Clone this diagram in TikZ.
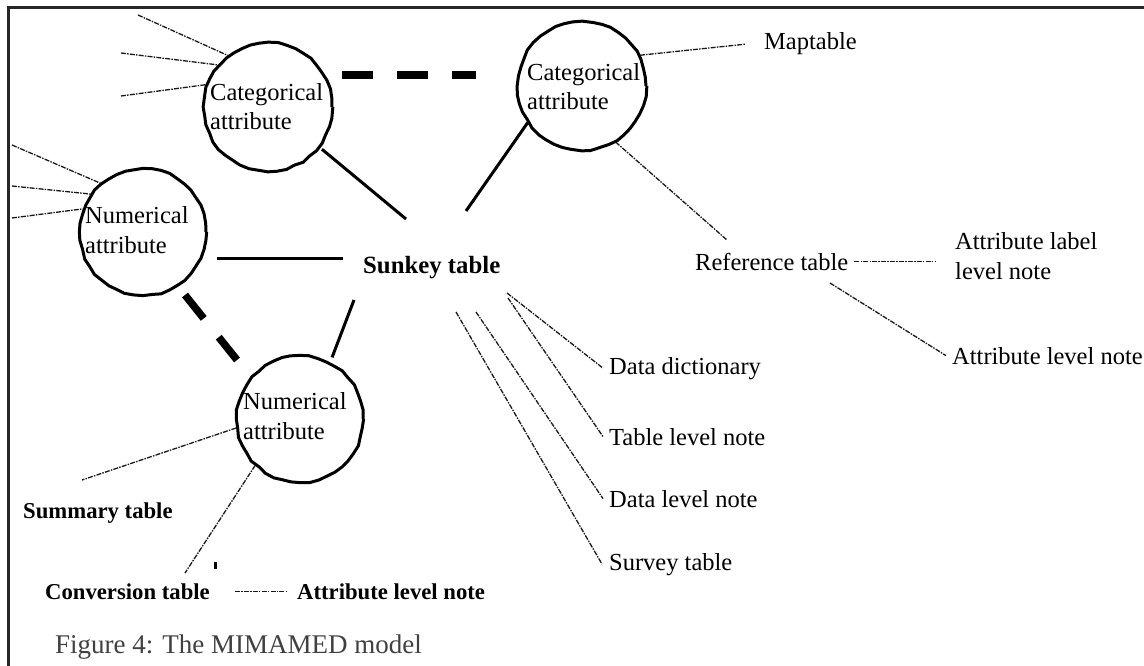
\documentclass[tikz,border=0pt]{standalone}
\usepackage{fontspec}
\setmainfont{Liberation Serif}
\usetikzlibrary{decorations.pathmorphing}
\definecolor{capgray}{HTML}{404040}
\begin{document}
\begin{tikzpicture}[x=1pt,y=-1pt,
  blob/.style={circle, draw, line width=3pt, inner sep=0pt, minimum size=#1,
    decorate, decoration={random steps, segment length=9pt, amplitude=0.8pt}},
  lbl/.style={inner sep=0pt, anchor=base west, font=\fontsize{24.5}{29.5}\selectfont},
  blbl/.style={inner sep=0pt, anchor=base west, font=\fontsize{22.7}{27}\selectfont\bfseries},
  ctext/.style={inner sep=0pt, anchor=west, align=left, font=\fontsize{24.5}{29.5}\selectfont},
  solidlink/.style={line width=3pt},
  heavydash/.style={line width=7.5pt, dash pattern=on 31pt off 24pt},
  faint/.style={line width=1.3pt, black!90, dash pattern=on 5pt off 1.2pt on 1.5pt off 1.2pt},
]
\pgfmathsetseed{7}
\useasboundingbox (0,0) rectangle (1144,666);
% frame
\draw[line width=3pt, black!85] (8,666) -- (8,8) -- (1144,8);

% circles
\node[blob=128pt] (c1) at (268,107) {};
\node[blob=128pt] (c2) at (582,86) {};
\node[blob=126pt] (c3) at (143,232) {};
\node[blob=126pt] (c4) at (300,419) {};
\node[ctext] (t1) at (210,106.5) {Categorical\\attribute};
\node[ctext] (t2) at (527,86.5) {Categorical\\attribute};
\node[ctext] (t3) at (85,230) {Numerical\\attribute};
\node[ctext] (t4) at (243,416) {Numerical\\attribute};

% labels
\node[inner sep=0pt, anchor=base west, font=\fontsize{24.8}{28}\selectfont\bfseries] (sk) at (363,273) {Sunkey table};
\node[lbl] (map) at (764,50) {Maptable};
\node[lbl] (ref) at (695,270) {Reference table};
\node[ctext] (alln) at (955,256) {Attribute label\\level note};
\node[lbl] (aln1) at (952,364) {Attribute level note};
\node[lbl] (dd) at (609,374) {Data dictionary};
\node[lbl] (tln) at (609,445) {Table level note};
\node[lbl] (dln) at (609,507) {Data level note};
\node[lbl] (st) at (609,570) {Survey table};
\node[blbl] (sum) at (23,518) {Summary table};
\node[blbl] (conv) at (45,599) {Conversion table};
\node[blbl] (aln2) at (297,599) {Attribute level note};
\node[inner sep=0pt, anchor=base west, font=\fontsize{27}{30}\selectfont, text=capgray] (cap) at (55,653) {Figure 4: The MIMAMED model};

% free ends
\coordinate (k1) at (406,219);
\coordinate (k2) at (466,211);
\coordinate (k3a) at (217,258);
\coordinate (k3b) at (343,258);
\coordinate (k4) at (354,300);
\coordinate (h1a) at (342,75);
\coordinate (h1b) at (476,75);
\coordinate (h2a) at (185,295);
\coordinate (h2b) at (237,360);
\coordinate (f1) at (138,15);
\coordinate (f2) at (121,53);
\coordinate (f3) at (121,96);
\coordinate (g1) at (12,145);
\coordinate (g2) at (12,186);
\coordinate (g3) at (12,218);
\coordinate (r1) at (727,240);
\coordinate (r2) at (830,283);
\coordinate (s1) at (507,293);
\coordinate (s2) at (508,298);
\coordinate (s3) at (476,312);
\coordinate (s4) at (456,312);
\coordinate (m1) at (82,480);
\coordinate (m2) at (185,573);

% solid links
\draw[solidlink, shorten <=3pt] (c1.-38) -- (k1);
\draw[solidlink] (c2.-146) -- (k2);
\draw[solidlink] (k3a) -- (k3b);
\draw[solidlink, shorten >=5pt] (k4) -- (c4.62);

% heavy dashed links
\draw[heavydash] (h1a) -- (h1b);
\draw[heavydash, dash pattern=on 30pt off 24pt] (h2a) -- (h2b);

% faint links
\draw[faint] (f1) -- (c1.128);
\draw[faint] (f2) -- (c1.140);
\draw[faint] (f3) -- (c1.160);
\draw[faint] (g1) -- (c3.131);
\draw[faint] (g2) -- (c3.144);
\draw[faint] (g3) -- (c3.159);
\draw[faint] (c2.28) -- ([xshift=-18pt]map.west);
\draw[faint] (c2.-59) -- (r1);
\draw[faint, shorten <=6pt, shorten >=20pt] (ref.east) -- (ref.east -| alln.west);
\draw[faint] (r2) -- ([xshift=-6pt]aln1.west);
\draw[faint] (s1) -- ([xshift=-6pt]dd.west);
\draw[faint] (s2) -- ([xshift=-6pt]tln.west);
\draw[faint] (s3) -- ([xshift=-6pt]dln.west);
\draw[faint] (s4) -- ([xshift=-7pt]st.west);
\draw[faint] (c4.188) -- (m1);
\draw[faint] (c4.226) -- (m2);
\draw[faint, shorten <=25pt, shorten >=10pt] (conv.east) -- (conv.east -| aln2.west);

% small mark
\fill (214,562) rectangle (217,569);
\end{tikzpicture}
\end{document}
